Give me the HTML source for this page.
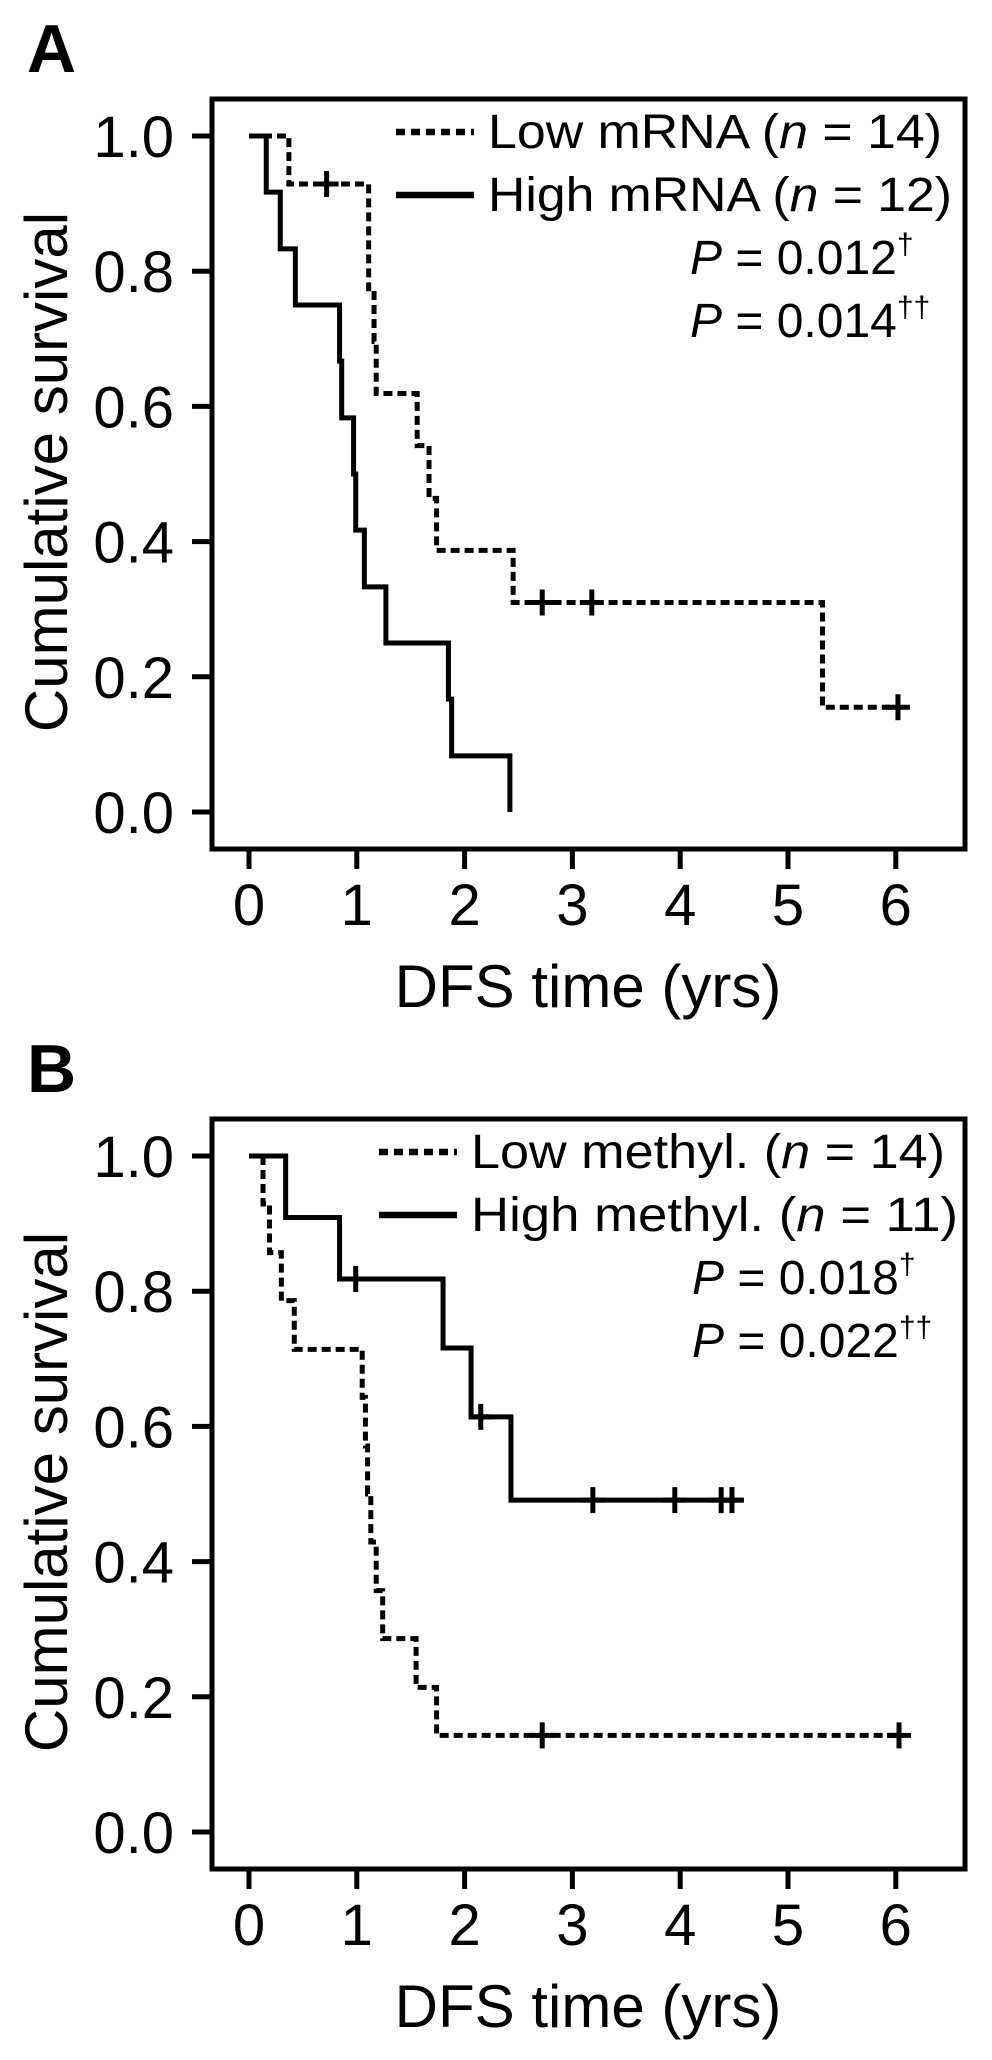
<!DOCTYPE html>
<html><head><meta charset="utf-8"><style>
html,body{margin:0;padding:0;background:#fff;}
svg{display:block;font-family:"Liberation Sans",Arial,sans-serif;}
</style></head><body>
<svg id="fig" width="992" height="2060" viewBox="0 0 992 2060" xmlns="http://www.w3.org/2000/svg"></svg>
<script>
// ---- Panel A data ----
const aLowTimes = [0.37, 1.11, 1.16, 1.18, 1.56, 1.67, 1.74, 2.45, 5.32];
const aLowSurv = [0.929, 0.774, 0.696, 0.619, 0.542, 0.464, 0.387, 0.31, 0.155];
const aLowCensor = [0.72, 2.72, 3.18, 6.02];
const aLowEnd = 6.02;
const aHighTimes = [0.16, 0.29, 0.43, 0.84, 0.86, 0.97, 0.99, 1.07, 1.27, 1.85, 1.88, 2.42];
const aHighSurv = [0.917, 0.833, 0.75, 0.667, 0.583, 0.5, 0.417, 0.333, 0.25, 0.167, 0.083, 0];
const aHighCensor = [];
const aHighEnd = 2.42;
// ---- Panel B data ----
const bLowTimes = [0.13, 0.19, 0.30, 0.42, 1.05, 1.08, 1.10, 1.13, 1.18, 1.24, 1.55, 1.74];
const bLowSurv = [0.929, 0.857, 0.786, 0.714, 0.643, 0.571, 0.5, 0.429, 0.357, 0.286, 0.214, 0.143];
const bLowCensor = [2.72, 6.03];
const bLowEnd = 6.03;
const bHighTimes = [0.34, 0.84, 1.8, 2.06, 2.43];
const bHighSurv = [0.909, 0.818, 0.716, 0.614, 0.491];
const bHighCensor = [0.99, 2.15, 3.19, 3.95, 4.38, 4.48];
const bHighEnd = 4.57;
// ---- ticks ----
const xTicks = [0, 1, 2, 3, 4, 5, 6];
const yTicks = [0, 0.2, 0.4, 0.6, 0.8, 1.0];
const yTickLabels = ["0.0", "0.2", "0.4", "0.6", "0.8", "1.0"];

const NS = "http://www.w3.org/2000/svg";
const svg = document.getElementById("fig");
function mk(tag, attrs, parent) {
  const e = document.createElementNS(NS, tag);
  for (const k in attrs) e.setAttribute(k, attrs[k]);
  (parent || svg).appendChild(e);
  return e;
}

function panel(off, key, label, low, high, legendLow, legendHigh, p1, p2, legendX, lowW, highW) {
  const g = mk("g", {});
  
  
  const xS = t => 249 + t * 107.8;
  const yS = s => off + 812 - s * 676;
  const pl = mk("text", {x: 27, y: off + 72, "font-size": 68, "font-weight": "bold"}, g);
  pl.textContent = label;
  
  
  const box = mk("rect", {x: 212, y: off + 99, width: 753, height: 750, fill: "none", stroke: "#000", "stroke-width": 5}, g);
  
  
  yTicks.forEach((v, i) => {
    const y = yS(v);
    const tk = mk("line", {x1: 192, x2: 212, y1: y, y2: y, stroke: "#000", "stroke-width": 5}, g);
    
    
    const tl = mk("text", {x: 174, y: y + 21, "font-size": 58, "text-anchor": "end"}, g);
    tl.textContent = yTickLabels[i];
    
    
  });
  xTicks.forEach(v => {
    const x = xS(v);
    const tk = mk("line", {x1: x, x2: x, y1: off + 849, y2: off + 869, stroke: "#000", "stroke-width": 5}, g);
    
    
    const tl = mk("text", {x: x, y: off + 925, "font-size": 58, "text-anchor": "middle"}, g);
    tl.textContent = String(v);
    
    
  });
  const xt = mk("text", {x: 588, y: off + 1007, "font-size": 60, "text-anchor": "middle"}, g);
  xt.textContent = "DFS time (yrs)";
  
  
  const yt = mk("text", {x: 0, y: 0, "font-size": 60, "text-anchor": "middle", transform: "translate(67," + (off + 472) + ") rotate(-90)"}, g);
  yt.textContent = "Cumulative survival";
  
  

  function curve(series, name, dash) {
    let d = "M" + xS(0) + "," + yS(1);
    let s = 1;
    series.times.forEach((t, i) => {
      d += " L" + xS(t) + "," + yS(s);
      s = series.surv[i];
      d += " L" + xS(t) + "," + yS(s);
    });
    d += " L" + xS(series.end) + "," + yS(s);
    const p = mk("path", {d: d, fill: "none", stroke: "#000", "stroke-width": 5, "stroke-dasharray": dash ? "9 5" : "none"}, g);
    
    
    series.censor.forEach(t => {
      let sv = 1;
      series.times.forEach((et, i) => { if (et <= t) sv = series.surv[i]; });
      const cx = xS(t), cy = yS(sv);
      const c = mk("path", {d: "M" + cx + "," + (cy - 13) + " L" + cx + "," + (cy + 13) + " M" + (cx - 12) + "," + cy + " L" + (cx + 12) + "," + cy, stroke: "#000", "stroke-width": 5, fill: "none"}, g);
      
      
    });
  }
  curve(low, "low-" + key, true);
  curve(high, "high-" + key, false);

  const lx1 = legendX - 92, lx2 = legendX - 14;
  const l1 = mk("line", {x1: lx1, x2: lx2, y1: off + 132, y2: off + 132, stroke: "#000", "stroke-width": 6.5, "stroke-dasharray": "9 6"}, g);
  
  
  const l2 = mk("line", {x1: lx1, x2: lx2, y1: off + 195, y2: off + 195, stroke: "#000", "stroke-width": 6.5}, g);
  
  
  function legText(y, parts, w, name, x) {
    const t = mk("text", {x: x, y: y, "font-size": 48}, g);
    if (w) { t.setAttribute("textLength", w); t.setAttribute("lengthAdjust", "spacingAndGlyphs"); }
    
    
    parts.forEach(pp => {
      const ts = mk("tspan", {}, t);
      if (pp[1] === "i") ts.setAttribute("font-style", "italic");
      if (pp[1] === "sup") { ts.setAttribute("font-size", 30); ts.setAttribute("dy", -20); }
      ts.textContent = pp[0];
    });
  }
  legText(off + 148, [[legendLow + " ("], ["n", "i"], [" = " + low.n + ")"]], lowW, 'legend-entry-low', legendX);
  legText(off + 211, [[legendHigh + " ("], ["n", "i"], [" = " + high.n + ")"]], highW, 'legend-entry-high', legendX);
  legText(off + 274, [["P", "i"], [" = " + p1], ["\u2020", "sup"]], 0, 'p-value-logrank', 690 + (key === "b" ? 2 : 0));
  legText(off + 337, [["P", "i"], [" = " + p2], ["\u2020\u2020", "sup"]], 0, 'p-value-breslow', 690 + (key === "b" ? 2 : 0));
}

panel(0, "a", "A",
  {times: aLowTimes, surv: aLowSurv, censor: aLowCensor, end: aLowEnd, n: 14},
  {times: aHighTimes, surv: aHighSurv, censor: aHighCensor, end: aHighEnd, n: 12},
  "Low mRNA", "High mRNA", "0.012", "0.014", 488, 454, 464);
panel(1020, "b", "B",
  {times: bLowTimes, surv: bLowSurv, censor: bLowCensor, end: bLowEnd, n: 14},
  {times: bHighTimes, surv: bHighSurv, censor: bHighCensor, end: bHighEnd, n: 11},
  "Low methyl.", "High methyl.", "0.018", "0.022", 471, 474, 487);
</script>
</body></html>
